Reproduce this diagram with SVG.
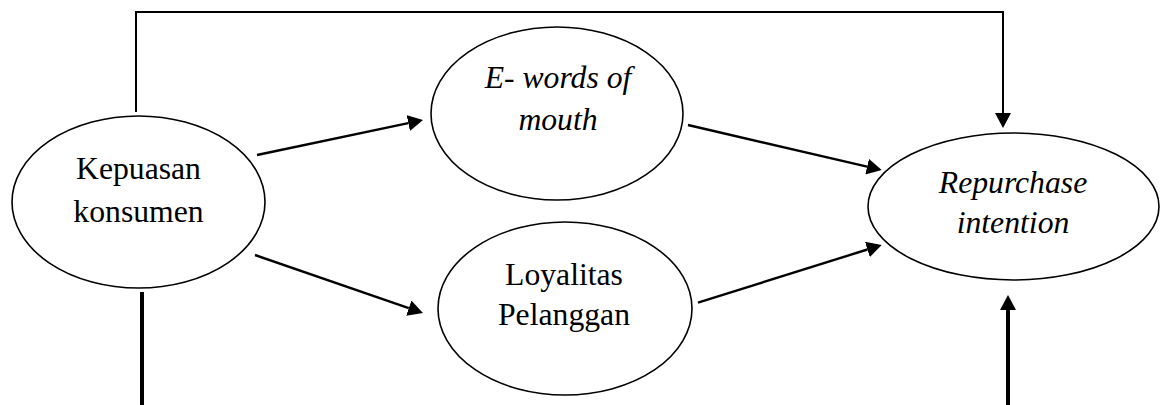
<svg xmlns="http://www.w3.org/2000/svg" width="1160" height="405" viewBox="0 0 1160 405">
<style>
.node{fill:#fff;stroke:#000;stroke-width:1.6}
.t{font-family:'Liberation Serif','DejaVu Serif',serif;font-size:31.7px;fill:#000;text-anchor:middle}
.i{font-style:italic}
.c{fill:none;stroke:#000;stroke-width:2.4}
.thin{stroke-width:2}
.thick{stroke-width:4}
</style>
<defs>
<marker id="ah" markerUnits="userSpaceOnUse" viewBox="0 0 15 16" refX="0" refY="8" markerWidth="15" markerHeight="16" orient="auto">
<path d="M0,0 L15,8 L0,16 Z" fill="#000"/>
</marker>
</defs>
<rect width="1160" height="405" fill="#fff"/>
<g id="connectors">
<path class="c thin" d="M136,112 V12 H1003 V113" marker-end="url(#ah)"/>
<line class="c" x1="257" y1="155" x2="408.3" y2="123.1" marker-end="url(#ah)"/>
<line class="c" x1="255" y1="255" x2="408.8" y2="308.1" marker-end="url(#ah)"/>
<line class="c" x1="688" y1="125" x2="867.1" y2="166.6" marker-end="url(#ah)"/>
<line class="c" x1="698" y1="302.7" x2="867.4" y2="249.5" marker-end="url(#ah)"/>
<line class="c thick" x1="142" y1="292" x2="142" y2="405"/>
<line class="c thick" x1="1008" y1="405" x2="1008" y2="310" marker-end="url(#ah)"/>
</g>
<g id="kepuasan">
<ellipse class="node" cx="138.5" cy="202" rx="126.5" ry="86"/>
<text class="t" x="138.5" y="179" font-family="Liberation Serif, serif">Kepuasan</text>
<text class="t" x="138.5" y="221.5" font-family="Liberation Serif, serif">konsumen</text>
</g>
<g id="ewom">
<ellipse class="node" cx="557" cy="113.5" rx="126" ry="86.5"/>
<text class="t i" x="558" y="88">E- words of</text>
<text class="t i" x="558" y="130">mouth</text>
</g>
<g id="loyalitas">
<ellipse class="node" cx="565" cy="308.5" rx="127" ry="86.5"/>
<text class="t" x="564" y="285">Loyalitas</text>
<text class="t" x="564" y="325">Pelanggan</text>
</g>
<g id="repurchase">
<ellipse class="node" cx="1013.5" cy="206.5" rx="145.5" ry="73.5"/>
<text class="t i" x="1013" y="193">Repurchase</text>
<text class="t i" x="1013" y="233">intention</text>
</g>
</svg>
